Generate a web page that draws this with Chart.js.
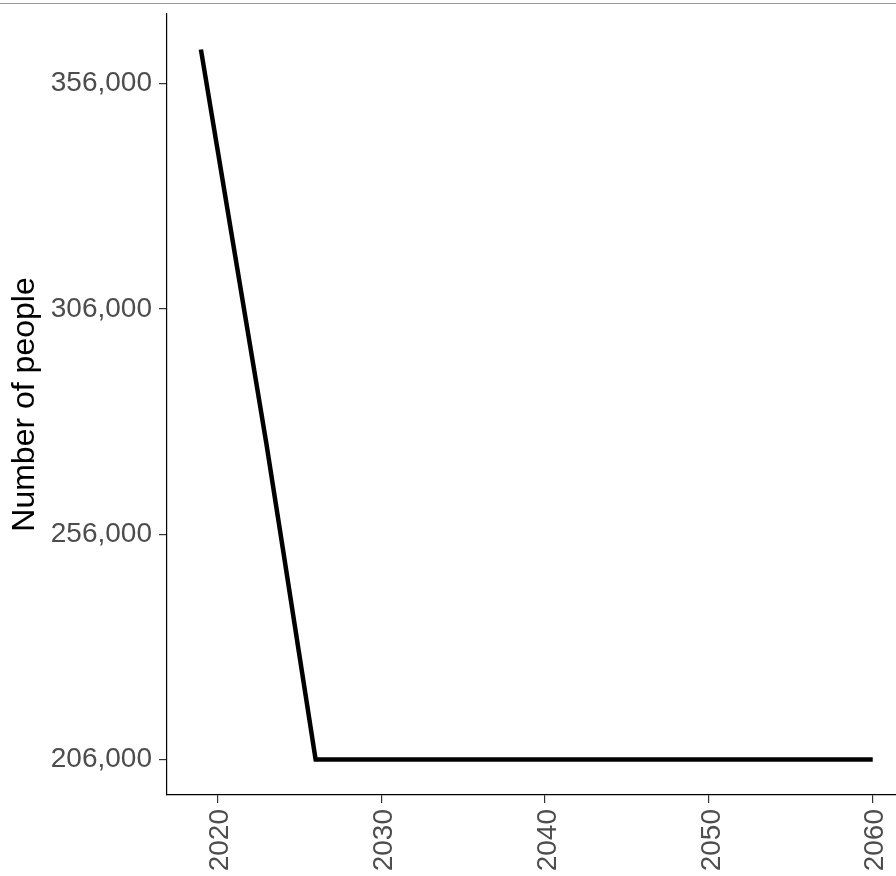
<!DOCTYPE html>
<html>
<head>
<meta charset="utf-8">
<script src="https://cdn.jsdelivr.net/npm/chart.js@4/dist/chart.umd.min.js"></script>
<style>
  html, body { margin: 0; padding: 0; background: #fff; }
  #wrap { position: relative; width: 896px; height: 876px; }
  #topline { position: absolute; left: 0; top: 3px; width: 896px; height: 1px; background: #9a9a9a; }
  canvas { position: absolute; left: 0; top: 0; }
</style>
</head>
<body>
<div id="wrap">
  <canvas id="c" width="896" height="876"></canvas>
  <div id="topline"></div>
</div>
<script>
// Data
const years  = [2019, 2020, 2021, 2022, 2023, 2024, 2025, 2026, 2060];
const people = [363600, 341700, 319800, 297900, 276000, 252800, 229400, 206000, 206000];
const xTicks = [2020, 2030, 2040, 2050, 2060];
const yTicks = [206000, 256000, 306000, 356000];
const yTitle = 'Number of people';

const FONT = '"Liberation Sans", Arial, Helvetica, sans-serif';

new Chart(document.getElementById('c'), {
  type: 'line',
  data: {
    datasets: [{
      data: years.map((y, i) => ({ x: y, y: people[i] })),
      borderColor: '#000',
      borderWidth: 4.5,
      pointRadius: 0,
      tension: 0,
      fill: false
    }]
  },
  options: {
    responsive: false,
    animation: false,
    events: [],
    layout: { padding: { top: 14, left: 0, right: 0, bottom: 0 } },
    plugins: { legend: { display: false }, tooltip: { enabled: false } },
    scales: {
      x: {
        type: 'linear',
        min: 2016.93,
        max: 2061.42,
        afterBuildTicks: s => { s.ticks = xTicks.map(v => ({ value: v })); },
        afterFit: s => { s.height = 81; s.paddingLeft = 0; s.paddingRight = 0; },
        border: { display: true, color: '#000', width: 1.2 },
        grid: { display: true, drawOnChartArea: false, drawTicks: true, tickLength: 8, color: '#333', lineWidth: 1.2 },
        ticks: {
          autoSkip: false,
          minRotation: 90, maxRotation: 90,
          padding: 6,
          labelOffset: 3,
          color: '#4d4d4d',
          font: { family: FONT, size: 28 },
          callback: v => String(v)
        }
      },
      y: {
        type: 'linear',
        min: 198120,
        max: 371480,
        afterBuildTicks: s => { s.ticks = yTicks.map(v => ({ value: v })); },
        afterFit: s => { s.width = 167; s.paddingTop = 0; s.paddingBottom = 0; },
        border: { display: true, color: '#000', width: 1.2 },
        grid: { display: true, drawOnChartArea: false, drawTicks: true, tickLength: 8, color: '#333', lineWidth: 1.2 },
        ticks: {
          padding: 7,
          color: '#4d4d4d',
          font: { family: FONT, size: 28 },
          callback: v => v.toLocaleString('en-US')
        },
        title: {
          display: true,
          text: yTitle,
          color: '#000',
          font: { family: FONT, size: 32 },
          padding: { top: 6, bottom: 0 }
        }
      }
    }
  }
});
</script>
</body>
</html>
